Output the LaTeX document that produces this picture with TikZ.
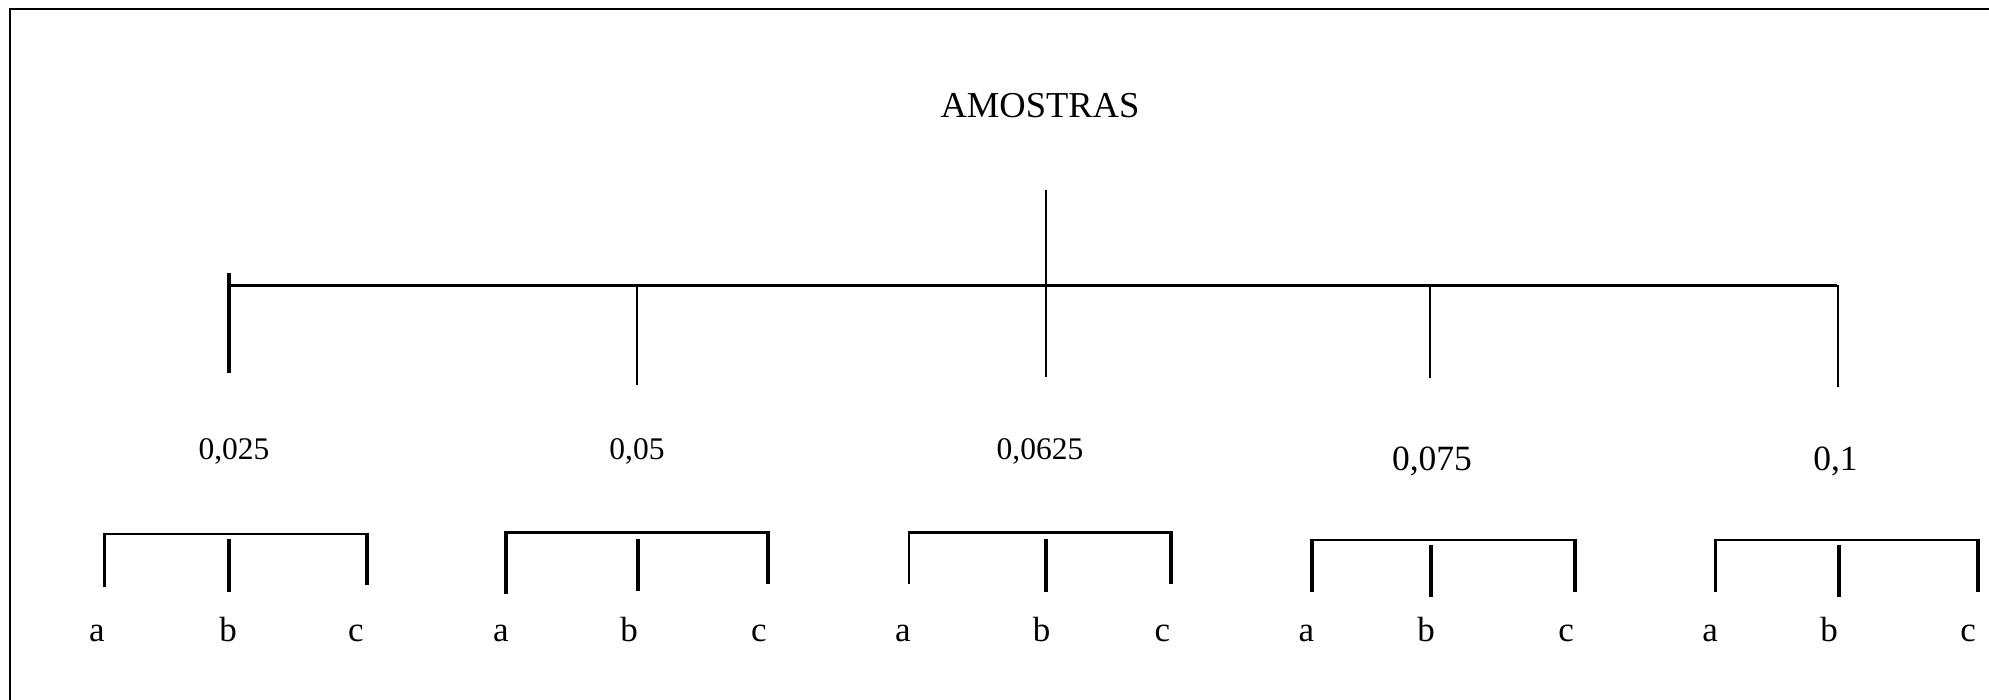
\documentclass[tikz,border=0pt]{standalone}
\usepackage{fontspec}
\setmainfont{Liberation Serif}
\begin{document}
\begin{tikzpicture}[x=1pt,y=-1pt,line cap=butt,
  frame/.style={line width=2pt},
  bar/.style={line width=2.6pt},
  legthick/.style={line width=3.6pt},
  legthin/.style={line width=2.2pt},
  title/.style={anchor=base,inner sep=0pt,font=\fontsize{36.5}{40}\selectfont},
  small/.style={anchor=base,inner sep=0pt,font=\fontsize{31.5}{36}\selectfont},
  big/.style={anchor=base,inner sep=0pt,font=\fontsize{35.5}{40}\selectfont},
  letter/.style={anchor=base,inner sep=0pt,font=\fontsize{35}{40}\selectfont}]
\useasboundingbox (0,0) rectangle (1989,700);
\clip (0,0) rectangle (1989,700);
\draw[frame] (10,9) rectangle (2020,730);

% title
\node[title] (title) at (1040,117.8) {AMOSTRAS};

% top level
\coordinate (hL) at (228,285.5);
\coordinate (hR) at (1837,285.5);
\draw[bar] (hL) -- (hR);
\coordinate (t1a) at (229,273); \coordinate (t1b) at (229,373);
\coordinate (t2a) at (637,285.5); \coordinate (t2b) at (637,385);
\coordinate (t3a) at (1046,190); \coordinate (t3b) at (1046,377);
\coordinate (t4a) at (1430,285.5); \coordinate (t4b) at (1430,378);
\coordinate (t5a) at (1838,285.5); \coordinate (t5b) at (1838,387.5);
\draw[legthick] (t1a) -- (t1b);
\draw[legthin] (t2a) -- (t2b);
\draw[legthin] (t3a) -- (t3b);
\draw[legthin] (t4a) -- (t4b);
\draw[legthin] (t5a) -- (t5b);

% numbers
\node[small] (n1) at (234,459.3) {0,025};
\node[small] (n2) at (637,459.3) {0,05};
\node[small] (n3) at (1040,459.3) {0,0625};
\node[big] (n4) at (1432,470.5) {0,075};
\node[big] (n5) at (1835.5,470.5) {0,1};

% group 1
\coordinate (g1l) at (104.5,534); \coordinate (g1r) at (367,534);
\draw[bar] (g1l) -- (g1r);
\draw[legthick] ([yshift=1.3pt]g1l) -- (104.5,587);
\draw[legthick] (229,539) -- (229,591.5);
\draw[legthick] ([yshift=1.3pt]g1r) -- (367,585);
% group 2
\coordinate (g2l) at (506,532.6); \coordinate (g2r) at (768,532.6);
\draw[bar] (g2l) -- (g2r);
\draw[legthick] ([yshift=1.3pt]g2l) -- (506,594);
\draw[legthick] (638,539) -- (638,591);
\draw[legthick] ([yshift=1.3pt]g2r) -- (768,584);
% group 3
\coordinate (g3l) at (909,532.6); \coordinate (g3r) at (1171,532.6);
\draw[bar] (g3l) -- (g3r);
\draw[legthin] ([yshift=1.3pt]g3l) -- (909,584);
\draw[legthick] (1046,539) -- (1046,591.5);
\draw[legthick] ([yshift=1.3pt]g3r) -- (1171,584);
% group 4
\coordinate (g4l) at (1312,540); \coordinate (g4r) at (1575,540);
\draw[bar] (g4l) -- (g4r);
\draw[legthick] ([yshift=1.3pt]g4l) -- (1312,591.5);
\draw[legthick] (1431,545) -- (1431,597);
\draw[legthick] ([yshift=1.3pt]g4r) -- (1575,591.5);
% group 5
\coordinate (g5l) at (1715.5,540); \coordinate (g5r) at (1978,540);
\draw[bar] (g5l) -- (g5r);
\draw[legthick] ([yshift=1.3pt]g5l) -- (1715.5,591.5);
\draw[legthick] (1839,545) -- (1839,597);
\draw[legthick] ([yshift=1.3pt]g5r) -- (1978,591.5);

% letters
\node[letter] (a1) at (97,641) {a};
\node[letter] (b1) at (228,641) {b};
\node[letter] (c1) at (356,641) {c};
\node[letter] (a2) at (501,641) {a};
\node[letter] (b2) at (629,641) {b};
\node[letter] (c2) at (759,641) {c};
\node[letter] (a3) at (903,641) {a};
\node[letter] (b3) at (1041.5,641) {b};
\node[letter] (c3) at (1162.5,641) {c};
\node[letter] (a4) at (1306.5,641) {a};
\node[letter] (b4) at (1426,641) {b};
\node[letter] (c4) at (1566,641) {c};
\node[letter] (a5) at (1710,641) {a};
\node[letter] (b5) at (1829,641) {b};
\node[letter] (c5) at (1968,641) {c};
\end{tikzpicture}
\end{document}
